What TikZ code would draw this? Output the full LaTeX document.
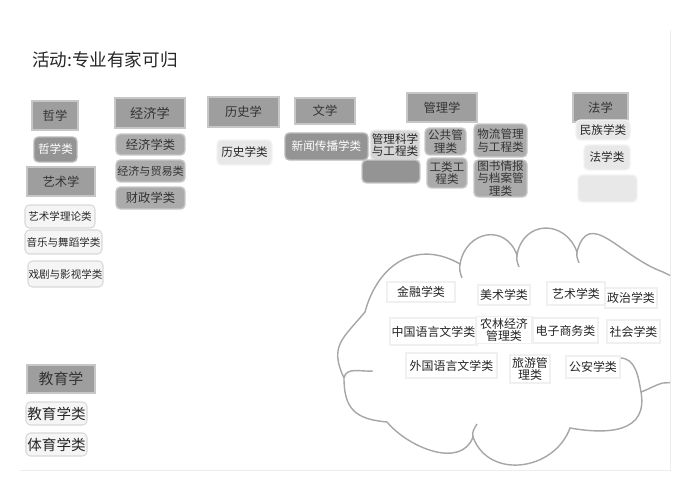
\documentclass[tikz,border=0pt]{standalone}
\usepackage{fontspec}
\newfontfamily\cjk{Noto Sans CJK SC}
\usepackage{tikz}

\tikzset{
  sz/.style 2 args={minimum width=#1, minimum height=#2},
  base/.style={rectangle, inner sep=0pt, align=center, font=\cjk\fontsize{6.6}{7.2}\selectfont},
  hdr/.style={base, fill=black!38, draw=black!22, line width=1.6pt, text=black!80, font=\cjk\fontsize{7}{8}\selectfont},
  catdark/.style={base, rounded corners=2.5pt, fill=black!42, draw=black!28, line width=0.8pt, text=white},
  catmid/.style={base, rounded corners=2.5pt, fill=black!33, draw=black!22, line width=0.8pt, text=black!80},
  catlight/.style={base, rounded corners=2.5pt, fill=black!9, draw=black!5, line width=0.8pt, text=black!85},
  catpale/.style={base, rounded corners=2.5pt, fill=black!4, draw=black!15, line width=0.6pt, text=black!85, font=\cjk\fontsize{6}{7}\selectfont},
  cloudcat/.style={base, fill=white, draw=black!6, line width=0.6pt, text=black!85, font=\cjk\fontsize{6.8}{7.3}\selectfont},
  cloudline/.style={draw=black!35, line width=0.8pt}
}

\begin{document}
\begin{tikzpicture}[x=0.02cm, y=0.02cm, font=\cjk]
\useasboundingbox (0,0) rectangle (700,-483);
\draw[black!7] (20,-470) -- (670,-470) -- (670,-30);

\node[anchor=west, text=black!85, font=\cjk\fontsize{10}{12}\selectfont] (title) at (26,-60) {活动:专业有家可归};

\node[hdr, sz={0.92cm}{0.58cm}] (zhexue) at (55,-115.5) {哲学};
\node[catdark, sz={0.86cm}{0.5cm}] (zhexuelei) at (55.5,-149.5) {哲学类};
\node[hdr, sz={1.36cm}{0.58cm}] (yishuxue) at (61,-181.5) {艺术学};
\node[catpale, sz={1.4cm}{0.46cm}] (yishulilun) at (60,-216.5) {艺术学理论类};
\node[catpale, sz={1.54cm}{0.48cm}] (yinyue) at (63.5,-242) {音乐与舞蹈学类};
\node[catpale, sz={1.5cm}{0.52cm}] (xiju) at (65.5,-274) {戏剧与影视学类};

\node[hdr, sz={1.4cm}{0.6cm}, font=\cjk\fontsize{7.5}{8}\selectfont] (jingjixue) at (150,-113) {经济学};
\node[catmid, sz={1.38cm}{0.42cm}, font=\cjk\fontsize{7}{8}\selectfont] (jingjixuelei) at (150.5,-144.5) {经济学类};
\node[catmid, sz={1.38cm}{0.44cm}, font=\cjk\fontsize{6.3}{7}\selectfont] (jingmao) at (150.5,-171) {经济与贸易类};
\node[catmid, sz={1.38cm}{0.44cm}, font=\cjk\fontsize{7}{8}\selectfont] (caizheng) at (150.5,-198) {财政学类};

\node[hdr, sz={1.42cm}{0.6cm}] (lishixue) at (243.5,-112) {历史学};
\node[catlight, sz={1.1cm}{0.5cm}] (lishixuelei) at (244.5,-152.5) {历史学类};

\node[hdr, sz={1.2cm}{0.52cm}] (wenxue) at (325,-111) {文学};
\node[catdark, sz={1.66cm}{0.54cm}] (xinwen) at (326.5,-146.5) {新闻传播学类};

\node[hdr, sz={1.4cm}{0.58cm}] (guanlixue) at (442,-107.5) {管理学};
\node[catlight, fill=black!16, sz={1cm}{0.6cm}] (guankegong) at (395,-145) {管理科学\\与工程类};
\node[catmid, sz={0.82cm}{0.54cm}] (gonggong) at (445.5,-141.5) {公共管\\理类};
\node[catmid, sz={1.06cm}{0.66cm}] (wuliu) at (500.5,-140.5) {物流管理\\与工程类};
\node[catmid, fill=black!42, sz={1.16cm}{0.46cm}] (guanliempty) at (391,-171.5) {};
\node[catmid, sz={0.8cm}{0.6cm}] (gonglei) at (447,-173) {工类工\\程类};
\node[catmid, sz={1.06cm}{0.74cm}] (tushu) at (500.5,-178.5) {图书情报\\与档案管\\理类};

\node[hdr, sz={1.1cm}{0.58cm}] (faxue) at (600.5,-107.5) {法学};
\node[catlight, sz={1.08cm}{0.4cm}] (minzu) at (603,-130) {民族学类};
\node[catlight, sz={0.92cm}{0.5cm}] (faxuelei) at (607,-157.5) {法学类};
\node[catlight, sz={1.18cm}{0.54cm}] (faxueempty) at (607.5,-188.5) {};

\node[hdr, sz={1.36cm}{0.56cm}, font=\cjk\fontsize{8.5}{9}\selectfont] (jiaoyuxue) at (61,-379) {教育学};
\node[catpale, sz={1.22cm}{0.46cm}, font=\cjk\fontsize{8.3}{9}\selectfont] (jiaoyuxuelei) at (56.5,-413.5) {教育学类};
\node[catpale, sz={1.22cm}{0.46cm}, font=\cjk\fontsize{8.3}{9}\selectfont] (tiyu) at (56.5,-444.5) {体育学类};

\begin{scope}
\clip (0,0) rectangle (670,-483);
\draw[cloudline] (344,-378) to[out=115,in=230,looseness=1.3] (365,-312)
  to[out=75,in=150,looseness=1.2] (460,-264)
  to[out=80,in=110,looseness=1.5] (517,-255)
  to[out=80,in=110,looseness=1.5] (577,-252)
  to[out=75,in=160,looseness=1.35] (663,-272) -- (720,-300) -- (720,-380) -- (663,-383)
  to[out=195,in=20] (641,-392)
  to[out=-80,in=-10,looseness=1.3] (570,-428)
  to[out=-110,in=-70,looseness=1.2] (473,-437)
  to[out=-110,in=-50] (387,-422)
  to[out=175,in=-90,looseness=1.3] (344,-378) -- cycle;
\draw[cloudline] (344,-378) to[out=80,in=185] (373,-371);
\draw[cloudline] (460,-264) to[out=-100,in=110] (462,-278);
\draw[cloudline] (517,-255) to[out=-100,in=110] (519,-267);
\draw[cloudline] (577,-252) to[out=-100,in=110] (579,-263);
\draw[cloudline] (641,-392) to[out=100,in=0] (620,-358);
\draw[cloudline] (473,-437) to[out=105,in=-120] (477,-424);
\end{scope}

\node[cloudcat, sz={1.36cm}{0.4cm}] (jinrong) at (421,-292) {金融学类};
\node[cloudcat, sz={1.04cm}{0.4cm}] (meishu) at (504,-295) {美术学类};
\node[cloudcat, sz={1.16cm}{0.46cm}] (yishuxuelei) at (576,-293.5) {艺术学类};
\node[cloudcat, sz={1.04cm}{0.4cm}] (zhengzhi) at (631,-298) {政治学类};
\node[cloudcat, sz={1.74cm}{0.54cm}] (zhongwen) at (433.5,-331.5) {中国语言文学类};
\node[cloudcat, sz={1.12cm}{0.54cm}] (nonglin) at (504,-330) {农林经济\\管理类};
\node[cloudcat, sz={1.3cm}{0.5cm}] (dianzi) at (565.5,-330.5) {电子商务类};
\node[cloudcat, sz={1.06cm}{0.46cm}] (shehui) at (633.5,-331.5) {社会学类};
\node[cloudcat, sz={1.82cm}{0.5cm}] (waiyu) at (451.5,-365.5) {外国语言文学类};
\node[cloudcat, sz={0.8cm}{0.56cm}] (lvyou) at (530,-369) {旅游管\\理类};
\node[cloudcat, sz={1.08cm}{0.44cm}] (gongan) at (593,-367) {公安学类};
\end{tikzpicture}
\end{document}
